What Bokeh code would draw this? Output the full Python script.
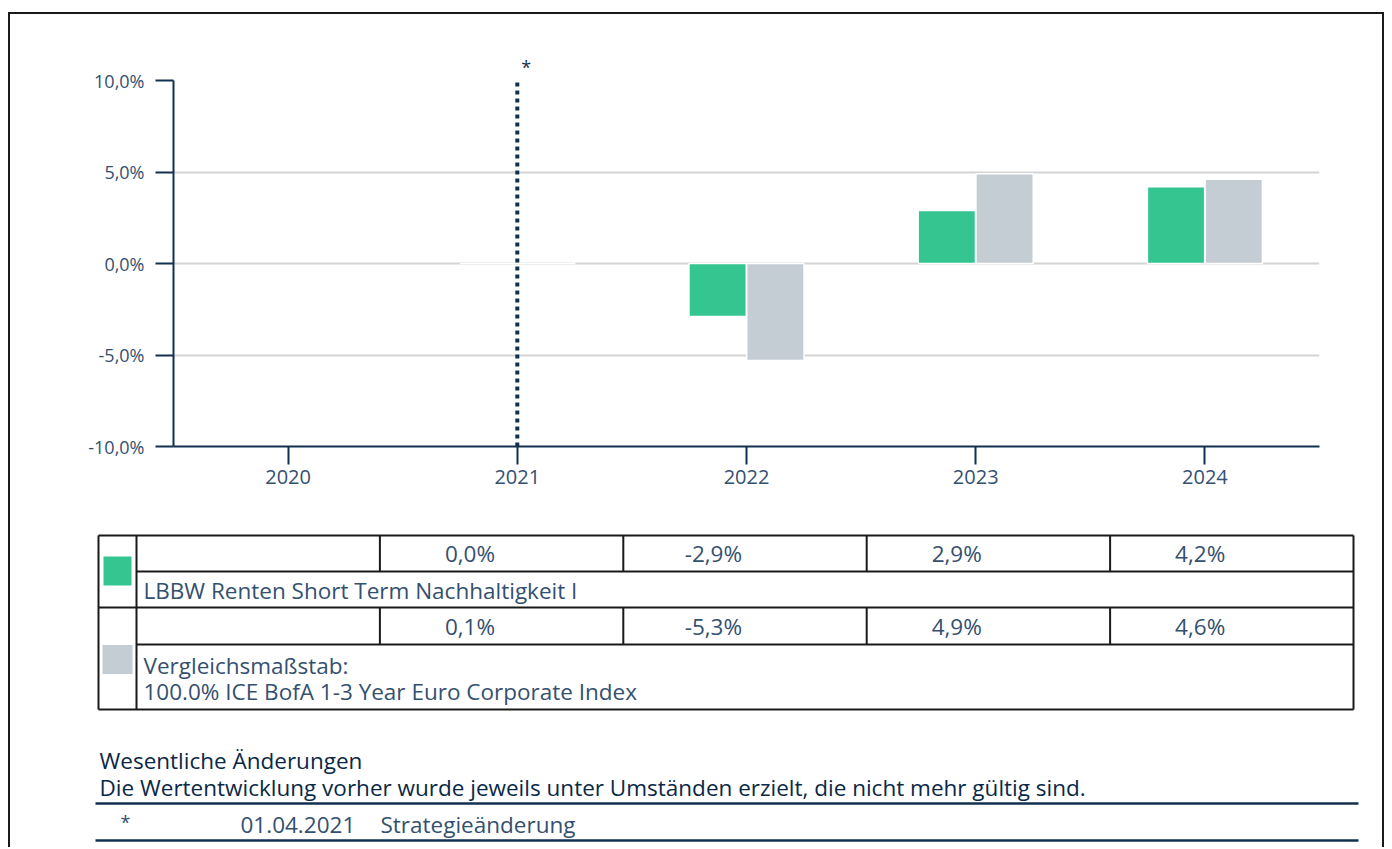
import math
from bokeh.plotting import figure
from bokeh.layouts import column
from bokeh.models import Range1d, FactorRange, ColumnDataSource, FixedTicker
from bokeh.transform import dodge
from bokeh.core.properties import value
from bokeh.embed import file_html
from bokeh.resources import INLINE

# ---------------- data ----------------
years = ["2020", "2021", "2022", "2023", "2024"]
fund = [math.nan, 0.0, -2.9, 2.9, 4.2]
bench = [math.nan, 0.1, -5.3, 4.9, 4.6]
fund_labels = ["", "0,0%", "-2,9%", "2,9%", "4,2%"]
bench_labels = ["", "0,1%", "-5,3%", "4,9%", "4,6%"]
fund_name = ["LBBW Renten Short Term Nachhaltigkeit I"]
bench_name = ["Vergleichsmaßstab:", "100.0% ICE BofA 1-3 Year Euro Corporate Index"]
y_ticks = [-10, -5, 0, 5, 10]
y_tick_labels = ["-10,0%", "-5,0%", "0,0%", "5,0%", "10,0%"]
change_year = "2021"
change_mark = "*"
change_date = "01.04.2021"
change_text = "Strategieänderung"
notes_title = "Wesentliche Änderungen"
notes_sub = "Die Wertentwicklung vorher wurde jeweils unter Umständen erzielt, die nicht mehr gültig sind."

# ---------------- style ----------------
FONT = "Open Sans"
NAVY = "#12304f"
LABEL = "#34506f"
GREEN = "#35c591"
GREY = "#c5cdd4"
GRID = "#d4d4d4"
BORDER = "#1a1a1a"

W = 1372
HA = 506
HB = 327
MB_L, MB_R = 163, 63
FRAME_W = W - MB_L - MB_R

# ---------------- chart ----------------
p = figure(x_range=FactorRange(*years), y_range=Range1d(y_ticks[0], y_ticks[-1]),
           width=W, height=HA, output_backend="svg", toolbar_location=None,
           min_border_left=MB_L, min_border_right=MB_R, min_border_top=66, min_border_bottom=74)
p.frame_align = False
p.outline_line_color = None
p.background_fill_color = "white"
p.border_fill_color = "white"
p.xgrid.visible = False
p.ygrid.ticker = FixedTicker(ticks=y_ticks)
p.ygrid.grid_line_color = GRID
p.ygrid.grid_line_width = 2

p.yaxis.ticker = FixedTicker(ticks=y_ticks)
p.yaxis.major_label_overrides = {t: l for t, l in zip(y_ticks, y_tick_labels)}
for ax in (p.xaxis[0], p.yaxis[0]):
    ax.axis_line_color = NAVY
    ax.axis_line_width = 2
    ax.major_tick_line_color = NAVY
    ax.major_tick_line_width = 2
    ax.major_tick_out = 18
    ax.major_tick_in = 0
    ax.minor_tick_line_color = None
    ax.major_label_text_font = FONT
    ax.major_label_text_color = LABEL
p.yaxis.major_label_text_font_size = "18px"
p.yaxis.major_label_standoff = 11
p.xaxis.major_label_text_font_size = "20px"
p.xaxis.major_label_standoff = 5

src = ColumnDataSource(dict(year=years, fund=fund, bench=bench))
p.vbar(x=dodge("year", -0.126, range=p.x_range), top="fund", bottom=0, width=0.25,
       fill_color=GREEN, line_color="white", line_width=1.5, source=src)
p.vbar(x=dodge("year", 0.126, range=p.x_range), top="bench", bottom=0, width=0.25,
       fill_color=GREY, line_color="white", line_width=1.5, source=src)

p.segment(x0=[change_year], x1=[change_year], y0=[y_ticks[0]], y1=[y_ticks[-1]],
          line_color=NAVY, line_width=4, line_dash="4 4")

# asterisk above the strategy-change line (placed as the plot title, above the frame)
change_px = (years.index(change_year) + 0.5) / len(years) * FRAME_W
p.title.text = change_mark
p.title.align = "left"
p.title.offset = change_px + 4
p.title.text_font = FONT
p.title.text_font_size = "18px"
p.title.text_font_style = "normal"
p.title.text_color = NAVY
p.title.standoff = 4

# ---------------- table + notes ----------------
q = figure(x_range=Range1d(0, W), y_range=Range1d(HB, 0), width=W, height=HB,
           output_backend="svg", toolbar_location=None, min_border=0,
           x_axis_location=None, y_axis_location=None)
q.frame_align = False
q.grid.visible = False
q.outline_line_color = None
q.border_fill_color = "white"

T_L, T_S, T_R = 88, 126, 1343
rows = [15, 51, 87, 124, 189]
ncol = len(years)
col_w = (T_R - T_S) / ncol
col_x = [T_S + i * col_w for i in range(ncol + 1)]

xs0, xs1, ys0, ys1 = [], [], [], []
def seg(a, b, c, d):
    xs0.append(a); ys0.append(b); xs1.append(c); ys1.append(d)
seg(T_L, rows[0], T_R, rows[0])
seg(T_S, rows[1], T_R, rows[1])
seg(T_L, rows[2], T_R, rows[2])
seg(T_S, rows[3], T_R, rows[3])
seg(T_L, rows[4], T_R, rows[4])
seg(T_L, rows[0], T_L, rows[4])
seg(T_S, rows[0], T_S, rows[4])
seg(T_R, rows[0], T_R, rows[4])
for cx in col_x[1:-1]:
    seg(cx, rows[0], cx, rows[1])
    seg(cx, rows[2], cx, rows[3])
q.segment(x0=xs0, y0=ys0, x1=xs1, y1=ys1, line_color=BORDER, line_width=2)

# swatches
q.rect(x=[107], y=[50.5], width=[28], height=[29], fill_color=GREEN, line_color=None)
q.rect(x=[107], y=[139], width=[30], height=[29], fill_color=GREY, line_color=None)

TS = "22.5px"
txt = dict(text_font=value(FONT), text_font_size=TS, text_color=LABEL, text_baseline="middle")
vx = [col_x[i] + 0.37 * col_w for i in range(ncol)]
q.text(x=vx, y=[(rows[0] + rows[1]) / 2] * ncol, text=fund_labels, text_align="center", **txt)
q.text(x=vx, y=[(rows[2] + rows[3]) / 2] * ncol, text=bench_labels, text_align="center", **txt)
q.text(x=[133], y=[70], text=fund_name, text_align="left", **txt)
q.text(x=[133, 133], y=[145, 171], text=bench_name, text_align="left", **txt)

ntxt = dict(text_font=value(FONT), text_font_size=TS, text_color="#0a2847",
            text_baseline="middle", text_align="left")
q.text(x=[89], y=[240], text=[notes_title], **ntxt)
q.text(x=[89], y=[267], text=[notes_sub], **ntxt)
q.segment(x0=[85, 85], y0=[283, 320], x1=[1348, 1348], y1=[283, 320], line_color=NAVY, line_width=2.5)
q.text(x=[115], y=[301], text=[change_mark], text_align="center", text_font=value(FONT),
       text_font_size="18px", text_color=LABEL, text_baseline="middle")
q.text(x=[230, 370], y=[304, 304], text=[change_date, change_text], text_align="left",
       text_font=value(FONT), text_font_size=TS, text_color=LABEL, text_baseline="middle")

layout = column(p, q, spacing=0, styles={"border-left": "2px solid #1a1a1a",
                                          "border-right": "2px solid #1a1a1a",
                                          "border-top": "2px solid #1a1a1a",
                                          "margin-top": "12px",
                                          "margin-left": "8px"})

open("out.html", "w").write(file_html(layout, INLINE))
